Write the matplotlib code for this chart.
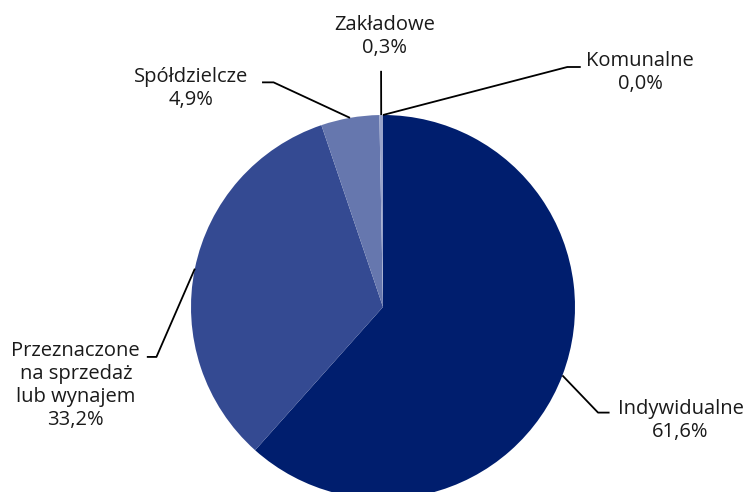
import numpy as np
import matplotlib.pyplot as plt

# data
categories = ['Indywidualne', 'Przeznaczone\nna sprzedaż\nlub wynajem', 'Spółdzielcze', 'Zakładowe', 'Komunalne']
shares = [61.6, 33.2, 4.9, 0.3, 0.0]
colors = ['#001E6E', '#344A92', '#6677AE', '#99A4CB', '#C8CFE4']

# label layout (data units, radius = 1): text centre, elbow, end of horizontal tick
label_pos = [(1.55, -0.59), (-1.60, -0.41), (-1.00, 1.14), (0.01, 1.41), (1.34, 1.22)]
elbows = [(1.12, -0.55), (-1.18, -0.26), (-0.57, 1.17), (-0.01, 1.23), (0.96, 1.25)]
ends = [(1.18, -0.55), (-1.23, -0.26), (-0.63, 1.17), (-0.01, 1.23), (1.03, 1.25)]

plt.rcParams['font.family'] = ['Open Sans', 'DejaVu Sans']

W, H = 747, 492
cx, cy, r = 383, 307, 192
fig = plt.figure(figsize=(W / 100, H / 100), dpi=100)
ax = fig.add_axes([(cx - r) / W, (H - cy - r) / H, 2 * r / W, 2 * r / H])

wedges, _ = ax.pie(shares, colors=colors, startangle=90, counterclock=False,
                   radius=1, wedgeprops=dict(linewidth=0))
ax.set_xlim(-1, 1)
ax.set_ylim(-1, 1)
ax.axis('off')
for w in wedges:
    w.set_clip_on(False)

for w, name, val, tp, el, en in zip(wedges, categories, shares, label_pos, elbows, ends):
    ang = np.deg2rad((w.theta1 + w.theta2) / 2)
    ax_, ay_ = np.cos(ang), np.sin(ang)
    ax.plot([ax_, el[0], en[0]], [ay_, el[1], en[1]], color='black', lw=1.3,
            clip_on=False, solid_capstyle='butt')
    txt = f"{name}\n{val:.1f}%".replace('.', ',')
    ax.text(tp[0], tp[1], txt, ha='center', va='center', fontsize=14.5,
            color='#1a1a1a', linespacing=1.2, clip_on=False)

fig.savefig('out.png', dpi=100)
